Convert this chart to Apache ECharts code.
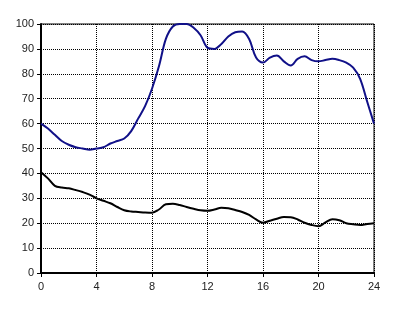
<!DOCTYPE html>
<html><head><meta charset="utf-8">
<script src="https://cdn.jsdelivr.net/npm/echarts@6/dist/echarts.min.js"></script>
<style>html,body{margin:0;padding:0;background:#fff}#c{width:396px;height:313px}</style>
</head><body><div id="c"></div>
<script>
const hours = [0,0.5,1,1.5,2,2.5,3,3.5,4,4.5,5,5.5,6,6.5,7,7.5,8,8.5,9,9.5,10,10.5,11,11.5,12,12.5,13,13.5,14,14.5,15,15.5,16,16.5,17,17.5,18,18.5,19,19.5,20,20.5,21,21.5,22,22.5,23,23.5,24];
const blueSeries = [60,58,55.5,53,51.5,50.5,50,49.5,50,50.5,52,53,54,57,62,67,74,83,94,99,100,100,98.5,95.5,90.5,90,92,95,96.7,97,94,86.5,84.5,86.5,87.3,85,83.3,86,87,85.5,85,85.5,86,85.5,84.5,82.5,78,69,60];
const blackSeries = [40.5,38,35,34.3,34,33.3,32.5,31.5,30,29,28,26.5,25.2,24.7,24.5,24.3,24.2,25.5,27.6,27.8,27.3,26.5,25.8,25.2,25,25.5,26.2,26,25.3,24.5,23.3,21.5,20.2,21,21.8,22.5,22.4,21.5,20.2,19.3,18.8,20.3,21.6,21.2,20,19.6,19.3,19.7,20];
const xTicks = [0,4,8,12,16,20,24];
const yTicks = [0,10,20,30,40,50,60,70,80,90,100];

const chart = echarts.init(document.getElementById('c'), null, {renderer:'canvas'});
const font = {fontFamily:'Liberation Sans, Arial, sans-serif', fontSize:11, color:'#222'};
chart.setOption({
  animation:false,
  grid:{left:41,right:22,top:24,bottom:40,show:true,borderColor:'#000',borderWidth:1,backgroundColor:'transparent'},
  xAxis:{type:'value',min:0,max:24,interval:4,
    axisLine:{show:true,lineStyle:{color:'#000',width:2}},
    axisTick:{show:true,length:4,lineStyle:{color:'#000',width:1}},
    axisLabel:Object.assign({margin:8,formatter:v=>xTicks.includes(v)?String(v):''},font),
    splitLine:{show:true,lineStyle:{color:'#000',type:[1,1],width:1}}},
  yAxis:{type:'value',min:0,max:100,interval:10,
    axisLine:{show:true,lineStyle:{color:'#000',width:2}},
    axisTick:{show:true,length:4,lineStyle:{color:'#000',width:1}},
    axisLabel:Object.assign({margin:7,formatter:v=>yTicks.includes(v)?String(v):''},font),
    splitLine:{show:true,lineStyle:{color:'#000',type:[1,1],width:1}}},
  series:[
    {type:'line',data:hours.map((h,i)=>[h,blueSeries[i]]),smooth:0.35,showSymbol:false,lineStyle:{color:'#101088',width:2}},
    {type:'line',data:hours.map((h,i)=>[h,blackSeries[i]]),smooth:0.35,showSymbol:false,lineStyle:{color:'#000',width:2}}
  ]
});
</script></body></html>
